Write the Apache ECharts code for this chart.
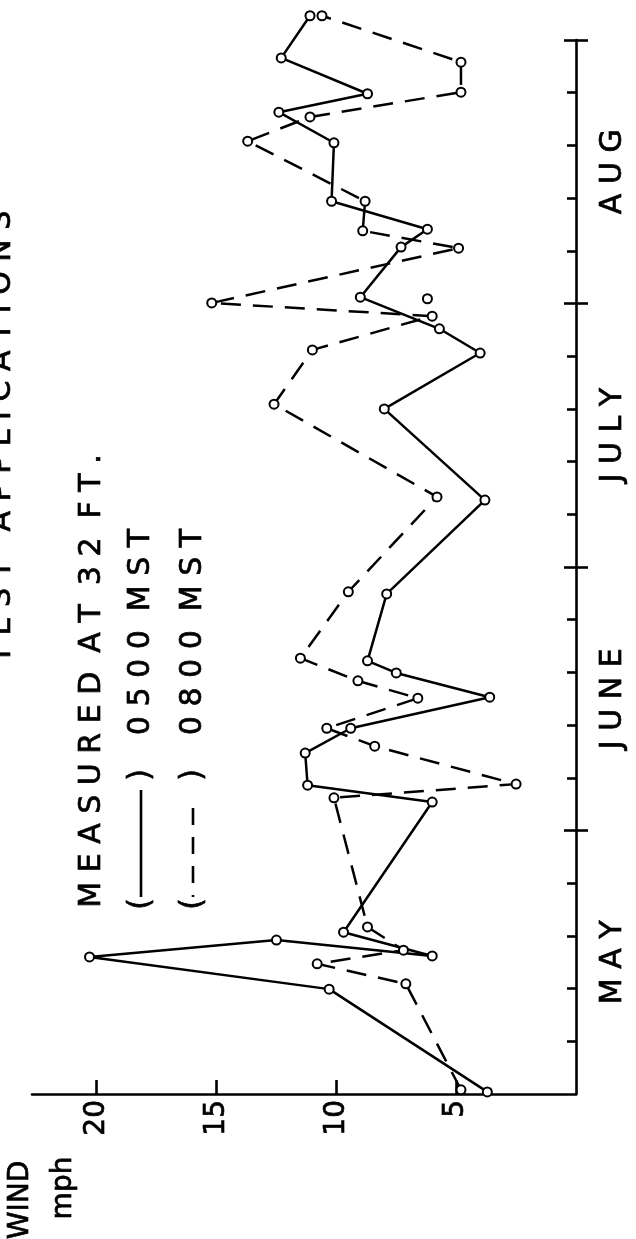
<!DOCTYPE html>
<html>
<head>
<meta charset="utf-8">
<script src="https://cdn.jsdelivr.net/npm/echarts@6/dist/echarts.min.js"></script>
<style>
html,body{margin:0;padding:0;background:#fff;}
#chart{width:636px;height:1239px;}
</style>
</head>
<body>
<div id="chart"></div>
<script>
// ---- data (time in tick periods from May 1: 5 periods per month; wind in mph) ----
const months = ['MAY', 'JUNE', 'JULY', 'AUG'];
const monthLabelPositions = [2.5, 7.5, 12.5, 17.5];
const monthBoundaryTicks = [5, 10, 15, 20];
const periodTicks = [1, 2, 3, 4, 6, 7, 8, 9, 11, 12, 13, 14, 16, 17, 18, 19];
const windTicks = [5, 10, 15, 20];

// 0500 MST (solid)
const solidTime = [0.04, 1.99, 2.60, 2.92, 2.62, 3.07, 5.54, 5.86, 6.47, 6.94, 7.53, 7.99, 8.22, 9.49, 11.27, 13.00, 14.06, 14.52, 15.12, 16.07, 16.41, 16.94, 18.05, 18.63, 18.98, 19.66, 20.46];
const solidWind = [3.7, 10.3, 20.3, 12.5, 6.0, 9.7, 6.0, 11.2, 11.3, 9.4, 3.6, 7.5, 8.7, 7.9, 3.8, 8.0, 4.0, 5.7, 9.0, 7.3, 6.2, 10.2, 10.1, 12.4, 8.7, 12.3, 11.1];

// 0800 MST (dashed)
const dashTime = [0.08, 2.09, 2.47, 2.73, 3.17, 5.62, 5.88, 6.60, 6.94, 7.51, 7.84, 8.27, 9.53, 11.33, 13.09, 14.12, 14.76, 15.01, 16.05, 16.38, 16.94, 18.08, 18.54, 19.01, 19.58, 20.46];
const dashWind = [4.8, 7.1, 10.8, 7.2, 8.7, 10.1, 2.5, 8.4, 10.4, 6.6, 9.1, 11.5, 9.5, 5.8, 12.6, 11.0, 6.0, 15.2, 4.9, 8.9, 8.8, 13.7, 11.1, 4.8, 4.8, 10.6];

// isolated reading
const extraTime = [15.09];
const extraWind = [6.2];

// ---- helpers ----
function spaced(str, gap) {
  const g = ' '.repeat(gap || 2);
  return str.split(' ').map(w => w.split('').join(' ')).join(g);
}
function vtext(x, y, text, size) {
  return {
    type: 'text', x: x, y: y, rotation: Math.PI / 2, silent: true,
    style: {
      text: text, fontSize: size, fontFamily: 'DejaVu Sans', fill: '#000',
      stroke: '#000', lineWidth: 0.7,
      align: 'center', verticalAlign: 'middle',
      textAlign: 'center', textVerticalAlign: 'middle'
    }
  };
}
function vline(x, y1, y2, dash) {
  return {
    type: 'line', silent: true,
    shape: { x1: x, y1: y1, x2: x, y2: y2 },
    style: { stroke: '#000', lineWidth: 2.6, lineDash: dash || null }
  };
}

const black = '#000';
const axisLineStyle = { color: black, width: 2.6 };

const chart = echarts.init(document.getElementById('chart'), null, { renderer: 'canvas' });
const option = {
  animation: false,
  backgroundColor: '#fff',
  grid: { left: 32, right: 60, top: 40, bottom: 145, outerBoundsMode: 'none', containLabel: false },
  xAxis: {
    type: 'value', inverse: true, min: 0, max: 22.7, position: 'bottom',
    axisLine: { onZero: false, lineStyle: axisLineStyle },
    axisTick: { inside: true, length: 14, customValues: windTicks, lineStyle: { color: black, width: 2.6 } },
    axisLabel: {
      customValues: windTicks, rotate: 90, fontSize: 28, fontFamily: 'DejaVu Sans', color: black, margin: 6,
      textBorderColor: black, textBorderWidth: 0.7
    },
    splitLine: { show: false }
  },
  yAxis: [
    {
      type: 'value', min: 0, max: 20, position: 'right',
      axisLine: { onZero: false, lineStyle: axisLineStyle },
      axisTick: { inside: true, length: 9, customValues: periodTicks, lineStyle: { color: black, width: 2.6 } },
      axisLabel: { show: false }, splitLine: { show: false }
    },
    {
      type: 'value', min: 0, max: 20, position: 'right',
      axisLine: { show: false, onZero: false },
      axisTick: { inside: true, length: 12, customValues: monthBoundaryTicks, lineStyle: { color: black, width: 2.6 } },
      axisLabel: { show: false }, splitLine: { show: false }
    },
    {
      type: 'value', min: 0, max: 20, position: 'right',
      axisLine: { show: false, onZero: false },
      axisTick: { inside: false, length: 12, customValues: monthBoundaryTicks, lineStyle: { color: black, width: 2.6 } },
      axisLabel: {
        customValues: monthLabelPositions, rotate: 90, fontSize: 30, fontFamily: 'DejaVu Sans', color: black, margin: 22,
        textBorderColor: black, textBorderWidth: 0.7,
        formatter: function (v) {
          const i = monthLabelPositions.indexOf(v);
          return i >= 0 ? spaced(months[i], 1) : '';
        }
      },
      splitLine: { show: false }
    }
  ],
  series: [
    {
      name: '0500 MST', type: 'line', xAxisIndex: 0, yAxisIndex: 0, clip: false,
      data: solidWind.map((w, i) => [w, solidTime[i]]),
      symbol: 'emptyCircle', symbolSize: 9,
      lineStyle: { color: black, width: 2.5 },
      itemStyle: { color: black, borderWidth: 2.4 },
      z: 3
    },
    {
      name: '0800 MST', type: 'line', xAxisIndex: 0, yAxisIndex: 0, clip: false,
      data: dashWind.map((w, i) => [w, dashTime[i]]),
      symbol: 'emptyCircle', symbolSize: 9,
      lineStyle: { color: black, width: 2.5, type: [20, 12] },
      itemStyle: { color: black, borderWidth: 2.4 },
      z: 3
    },
    {
      name: 'extra', type: 'scatter', xAxisIndex: 0, yAxisIndex: 0, clip: false,
      data: extraWind.map((w, i) => [w, extraTime[i]]),
      symbol: 'emptyCircle', symbolSize: 9,
      itemStyle: { color: black, borderColor: black, borderWidth: 2.4, opacity: 1 },
      z: 4
    }
  ],
  graphic: {
    elements: [
      vtext(2, 437, spaced('TEST APPLICATIONS', 3), 30),
      vtext(92, 681, spaced('MEASURED AT 32 FT.', 2), 30),
      vtext(141, 904, '(', 30),
      vtext(141, 775, ')', 30),
      vline(141, 790, 897),
      vtext(141, 632, spaced('0500 MST', 2), 30),
      vtext(193, 904, '(', 30),
      vtext(193, 775, ')', 30),
      vline(193, 808, 897, [17, 12]),
      vtext(193, 632, spaced('0800 MST', 2), 30),
      vtext(21, 1200, 'WIND', 28),
      vtext(64, 1188, 'mph', 28)
    ]
  }
};
chart.setOption(option);
</script>
</body>
</html>
